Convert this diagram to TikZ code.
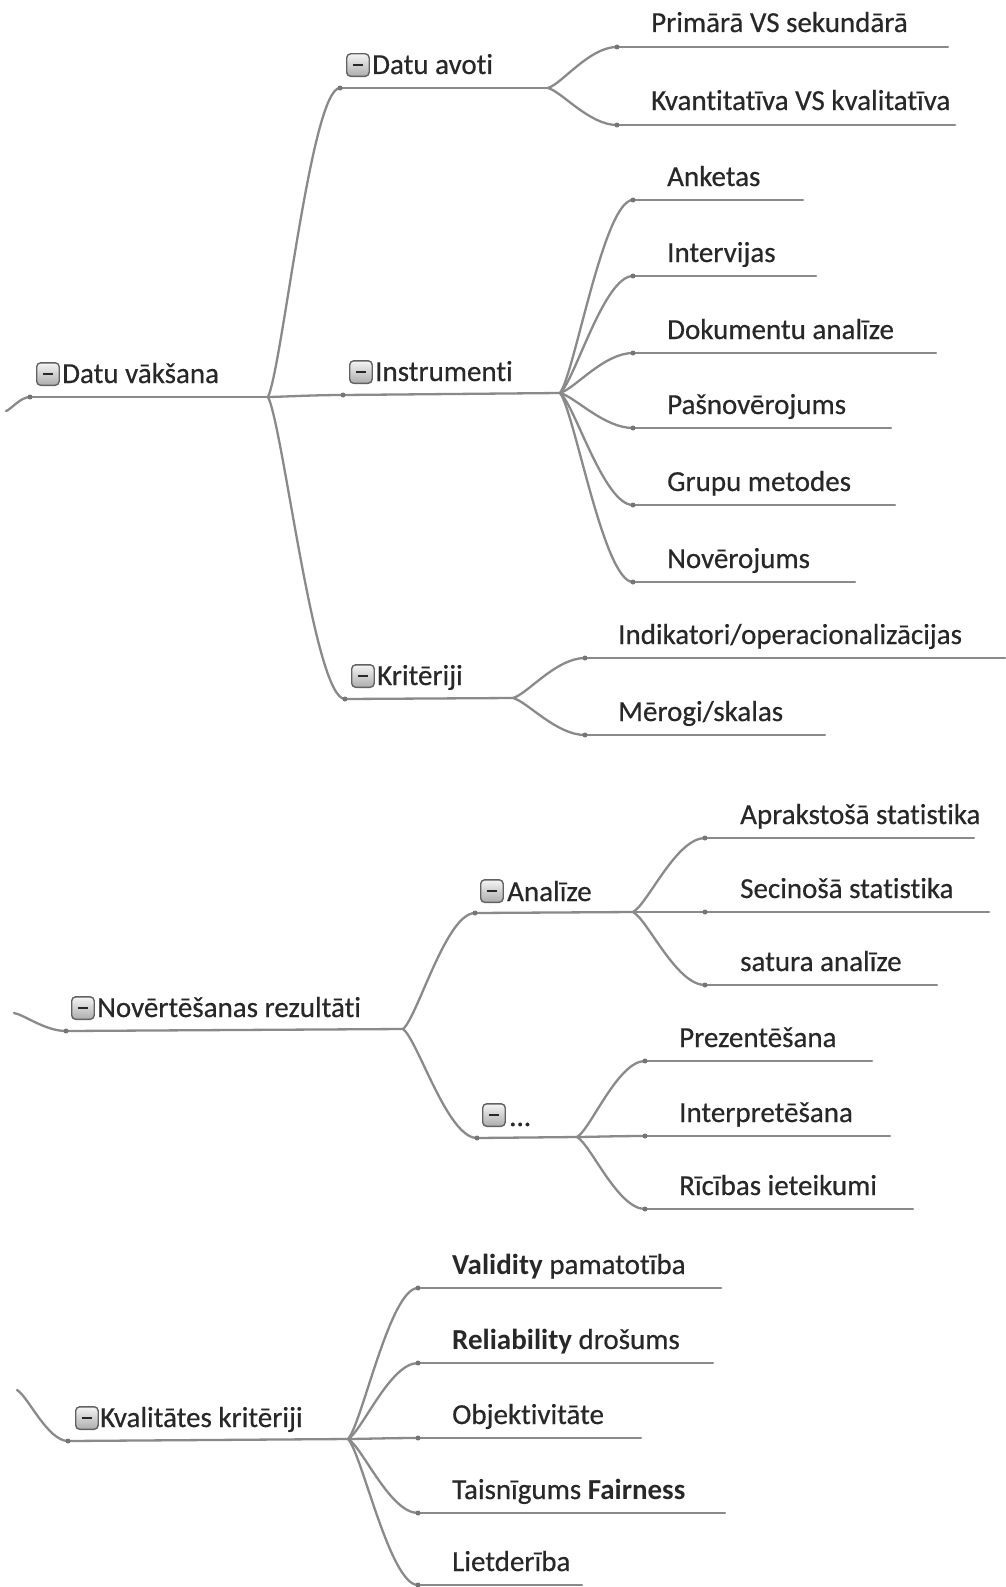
\documentclass[tikz,border=0pt]{standalone}
\usepackage{fontspec}
\setmainfont{Carlito}[Ligatures=NoCommon, UprightFeatures={FakeBold=0.5}]
\usetikzlibrary{calc}
\definecolor{linegray}{HTML}{8A8A8A}
\definecolor{textgray}{HTML}{282828}
\definecolor{iconedge}{HTML}{626262}
\tikzset{
  conn/.style={draw=linegray, line width=2.3pt, line cap=round},
  branch/.style={to path={let \p1=(\tikztostart), \p2=(\tikztotarget) in
     .. controls ({\x1+0.2*(\x2-\x1)},{\y1+0.1*(\y2-\y1)}) and ({\x1+0.6*(\x2-\x1)},{\y2}) .. (\tikztotarget)}},
  txt/.style={font=\fontsize{29}{35}\selectfont, text=textgray, inner sep=0pt, anchor=base west},
  toggle/.style={draw=iconedge, line width=1.4pt, rounded corners=4pt, minimum size=22.5pt,
     inner sep=0pt, top color=white!92!gray, bottom color=gray!65, anchor=south west,
     path picture={\draw[textgray, line width=1.8pt]
        ([xshift=-5pt]path picture bounding box.center) -- ([xshift=5pt]path picture bounding box.center);}},
  joint/.style={circle, fill=linegray!85!black, inner sep=0pt, minimum size=5pt},
}
\begin{document}
\begin{tikzpicture}[x=1pt, y=-1pt]
\useasboundingbox[fill=white] (0,0) rectangle (1005,1587);

% ---------- Datu vaksana ----------
\coordinate (dv-o) at (6,411);
\coordinate (dv-s) at (30,397);
\coordinate (dv-e) at (268,397);
\node[toggle] (dv-i) at ($(dv-s)+(6,-11)$) {};
\node[txt] (dv-t) at ($(dv-s)+(32,-14)$) {Datu vākšana};

% topics under Datu vaksana
\coordinate (da-s) at (340,88);  \coordinate (da-e) at (548,88);
\node[toggle] (da-i) at ($(da-s)+(6,-11)$) {};
\node[txt] (da-t) at ($(da-s)+(32,-14)$) {Datu avoti};

\coordinate (in-s) at (343,395); \coordinate (in-e) at (560,393);
\node[toggle] (in-i) at ($(in-s)+(6,-11)$) {};
\node[txt] (in-t) at ($(in-s)+(32,-14)$) {Instrumenti};

\coordinate (kr-s) at (345,699); \coordinate (kr-e) at (513,698);
\node[toggle] (kr-i) at ($(kr-s)+(6,-11)$) {};
\node[txt] (kr-t) at ($(kr-s)+(32,-14)$) {Kritēriji};

% leaves of Datu avoti
\foreach \n/\y/\xe/\t in {1/47/948/{Primārā VS sekundārā}, 2/125/955/{Kvantitatīva VS kvalitatīva}} {
  \coordinate (da\n-s) at (617,\y); \coordinate (da\n-e) at (\xe,\y);
  \node[txt] (da\n-t) at ($(da\n-s)+(34,-15)$) {\t};
}
% leaves of Instrumenti
\foreach \n/\y/\xe/\t in {1/200/803/Anketas, 2/276/816/Intervijas, 3/353/936/{Dokumentu analīze},
                          4/428/891/Pašnovērojums, 5/505/895/{Grupu metodes}, 6/582/855/Novērojums} {
  \coordinate (in\n-s) at (633,\y); \coordinate (in\n-e) at (\xe,\y);
  \node[txt] (in\n-t) at ($(in\n-s)+(34,-14)$) {\t};
}
% leaves of Kriteriji
\foreach \n/\y/\xe/\t in {1/658/1005/{Indikatori/operacionalizācijas}, 2/735/825/{Mērogi/skalas}} {
  \coordinate (kr\n-s) at (585,\y); \coordinate (kr\n-e) at (\xe,\y);
  \node[txt] (kr\n-t) at ($(kr\n-s)+(33,-14)$) {\t};
}

% ---------- Novertesanas rezultati ----------
\coordinate (nr-o) at (14,1013);
\coordinate (nr-s) at (66,1031);
\coordinate (nr-e) at (403,1029);
\node[toggle] (nr-i) at ($(nr-s)+(5,-11)$) {};
\node[txt] (nr-t) at ($(nr-s)+(31,-14)$) {Novērtēšanas rezultāti};

\coordinate (an-s) at (475,913); \coordinate (an-e) at (633,912);
\node[toggle] (an-i) at ($(an-s)+(5,-10)$) {};
\node[txt] (an-t) at ($(an-s)+(32,-12)$) {Analīze};

\coordinate (el-s) at (477,1138); \coordinate (el-e) at (577,1137);
\node[toggle] (el-i) at ($(el-s)+(5,-11)$) {};
\node[txt] (el-t) at ($(el-s)+(32,-12)$) {...};

\foreach \n/\y/\xe/\t in {1/838/974/{Aprakstošā statistika}, 2/912/989/{Secinošā statistika}, 3/985/937/{satura analīze}} {
  \coordinate (an\n-s) at (705,\y); \coordinate (an\n-e) at (\xe,\y);
  \node[txt] (an\n-t) at ($(an\n-s)+(35,-14)$) {\t};
}
\foreach \n/\y/\xe/\t in {1/1061/872/Prezentēšana, 2/1136/890/Interpretēšana, 3/1209/913/{Rīcības ieteikumi}} {
  \coordinate (el\n-s) at (645,\y); \coordinate (el\n-e) at (\xe,\y);
  \node[txt] (el\n-t) at ($(el\n-s)+(34,-14)$) {\t};
}

% ---------- Kvalitates kriteriji ----------
\coordinate (kk-o) at (17,1390);
\coordinate (kk-s) at (68,1441);
\coordinate (kk-e) at (348,1439);
\node[toggle] (kk-i) at ($(kk-s)+(7,-11)$) {};
\node[txt] (kk-t) at ($(kk-s)+(32,-14)$) {Kvalitātes kritēriji};

\foreach \n/\y/\xe/\t in {1/1288/721/{\textbf{Validity} pamatotība}, 2/1363/713/{\textbf{Reliability} drošums},
                          3/1438/641/Objektivitāte, 4/1513/725/{Taisnīgums \textbf{Fairness}}, 5/1585/582/Lietderība} {
  \coordinate (kk\n-s) at (418,\y); \coordinate (kk\n-e) at (\xe,\y);
  \node[txt] (kk\n-t) at ($(kk\n-s)+(34,-14)$) {\t};
}

% ---------- connectors ----------
% underlines of all topics
\foreach \k in {dv,da,in,kr,da1,da2,in1,in2,in3,in4,in5,in6,kr1,kr2,
                nr,an,el,an1,an2,an3,el1,el2,el3,kk,kk1,kk2,kk3,kk4,kk5}
  \draw[conn] (\k-s) -- (\k-e);

% curves from the roots coming in from the left
\draw[conn] (dv-o) to[branch] (dv-s);
\draw[conn] (nr-o) to[branch] (nr-s);
\draw[conn] (kk-o) to[branch] (kk-s);

% parent branch points to children
\foreach \c in {da,in,kr} \draw[conn] (dv-e) to[branch] (\c-s);
\foreach \c in {da1,da2} \draw[conn] (da-e) to[branch] (\c-s);
\foreach \c in {in1,in2,in3,in4,in5,in6} \draw[conn] (in-e) to[branch] (\c-s);
\foreach \c in {kr1,kr2} \draw[conn] (kr-e) to[branch] (\c-s);
\foreach \c in {an,el} \draw[conn] (nr-e) to[branch] (\c-s);
\foreach \c in {an1,an2,an3} \draw[conn] (an-e) to[branch] (\c-s);
\foreach \c in {el1,el2,el3} \draw[conn] (el-e) to[branch] (\c-s);
\foreach \c in {kk1,kk2,kk3,kk4,kk5} \draw[conn] (kk-e) to[branch] (\c-s);

% small joints where each underline begins
\foreach \k in {dv,da,in,kr,da1,da2,in1,in2,in3,in4,in5,in6,kr1,kr2,
                nr,an,el,an1,an2,an3,el1,el2,el3,kk,kk1,kk2,kk3,kk4,kk5}
  \node[joint] (\k-d) at (\k-s) {};
\end{tikzpicture}
\end{document}
